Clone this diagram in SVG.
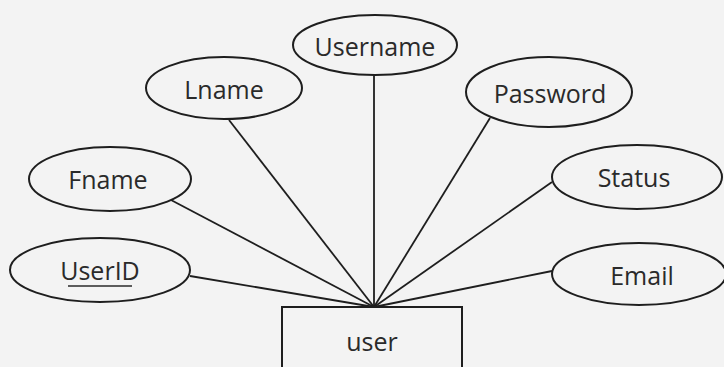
<svg xmlns="http://www.w3.org/2000/svg" width="724" height="367" viewBox="0 0 724 367">
<style>
.attr ellipse{fill:none;stroke:#1e1e1e;stroke-width:2}
.ent rect{fill:none;stroke:#1e1e1e;stroke-width:2}
text{font-family:"Open Sans","Noto Sans",sans-serif;font-size:25px;fill:#2a2a2a;text-anchor:middle}
#connectors line{stroke:#1e1e1e;stroke-width:1.8}
</style>
<rect width="724" height="367" fill="#f3f3f3"/>
<g id="connectors">
<line x1="190" y1="276" x2="374" y2="307"/>
<line x1="171" y1="200" x2="374" y2="307"/>
<line x1="229" y1="120" x2="374" y2="307"/>
<line x1="374" y1="75" x2="374" y2="307"/>
<line x1="490" y1="118" x2="374" y2="307"/>
<line x1="552" y1="182" x2="374" y2="307"/>
<line x1="552" y1="271" x2="374" y2="307"/>
</g>
<g id="user" class="ent"><rect x="282" y="307" width="180" height="70"/><text x="372" y="351">user</text></g>
<g id="UserID" class="attr"><ellipse cx="100" cy="270" rx="90" ry="32"/><text x="100" y="280">UserID</text><line x1="68" y1="286" x2="132" y2="286" stroke="#2a2a2a" stroke-width="1.6"/></g>
<g id="Fname" class="attr"><ellipse cx="110" cy="179" rx="81" ry="32"/><text x="108" y="189">Fname</text></g>
<g id="Lname" class="attr"><ellipse cx="224" cy="88" rx="78" ry="31"/><text x="224" y="99">Lname</text></g>
<g id="Username" class="attr"><ellipse cx="375" cy="45" rx="82" ry="30"/><text x="375" y="56">Username</text></g>
<g id="Password" class="attr"><ellipse cx="549" cy="92" rx="83" ry="35"/><text x="550" y="103">Password</text></g>
<g id="Status" class="attr"><ellipse cx="637" cy="177" rx="85" ry="32"/><text x="634" y="187">Status</text></g>
<g id="Email" class="attr"><ellipse cx="639" cy="274" rx="87" ry="31"/><text x="642" y="285">Email</text></g>
</svg>
